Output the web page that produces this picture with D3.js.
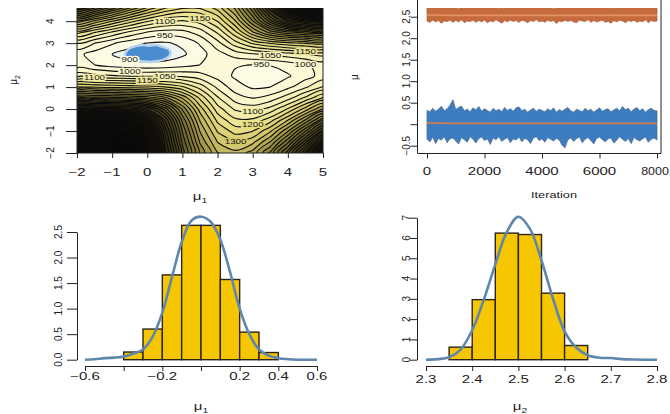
<!DOCTYPE html>
<html><head><meta charset="utf-8">
<script src="https://cdn.jsdelivr.net/npm/d3@7"></script>
<style>
body{margin:0;background:#fff}
text{font-family:"Liberation Sans",Arial,sans-serif;fill:#222}
</style></head>
<body><svg id="fig" width="670" height="414"></svg>
<script>
// ---------- data ----------
// likelihood surface grid
const gridMu1 = [-2,-1.5,-1,-0.5,0,0.5,1,1.5,2,2.5,3,3.5,4,4.5,5];
const gridMu2 = [-2,-1.5,-1,-0.5,0,0.5,1,1.5,2,2.5,3,3.5,4,4.5,5];
// -log likelihood, one row per mu2 value, bottom row first
const negLogLik = [
  [4959,4499,3808,3144,2578,2122,1776,1538,1403,1366,1422,1562,1778,2058,2388],
  [4134,4022,3642,3078,2538,2087,1739,1494,1349,1299,1337,1453,1639,1880,2161],
  [3339,3313,3209,2903,2459,2036,1695,1447,1294,1230,1249,1341,1494,1693,1923],
  [2652,2643,2615,2522,2283,1948,1635,1394,1236,1161,1161,1228,1347,1504,1684],
  [2085,2079,2067,2039,1959,1781,1542,1327,1174,1092,1076,1118,1205,1323,1456],
  [1637,1630,1622,1611,1586,1522,1396,1240,1108,1026,1000,1021,1080,1163,1256],
  [1306,1295,1287,1280,1272,1254,1209,1130,1039, 972, 942, 950, 987,1042,1105],
  [1086,1071,1058,1050,1047,1047,1042,1022, 982, 942, 919, 921, 944, 979,1020],
  [ 974, 951, 931, 918, 914, 919, 934, 951, 959, 954, 948, 952, 969, 993,1019],
  [ 964, 929, 900, 878, 867, 870, 891, 930, 980,1022,1045,1061,1079,1098,1116],
  [1049,1000, 957, 921, 898, 893, 910, 956,1032,1128,1209,1256,1285,1305,1321],
  [1223,1156,1094,1040, 998, 977, 982,1023,1108,1238,1395,1522,1588,1622,1641],
  [1479,1388,1300,1221,1154,1108,1093,1120,1201,1344,1547,1780,1959,2041,2075],
  [1805,1683,1563,1449,1348,1270,1227,1232,1300,1442,1664,1958,2283,2522,2617],
  [2189,2028,1866,1708,1564,1445,1367,1345,1394,1526,1750,2070,2472,2904,3209]
];
// contour labels: level and where along the line it sits
const contourLabels = [
  [900,-0.3,2.05],[950,0.3,3.3],[1000,-0.27,1.7],[1050,0.64,1.5],[1100,-1.26,1.42],
  [1150,-0.2,1.2],[1100,0.3,3.95],[1150,1.4,4.2],[1150,4.75,2.7],[1050,3.4,2.53],
  [1000,4.3,2.15],[950,3.3,1.97],[1100,2.8,0.0],[1200,2.77,-0.8],[1300,2.58,-1.4]
];
// outline of the cloud of sampled (mu1, mu2) pairs
const sampleCloud = [
  [-0.58,2.55],[-0.5,2.7],[-0.35,2.8],[-0.15,2.86],[0.05,2.83],[0.25,2.86],[0.42,2.78],
  [0.6,2.66],[0.62,2.5],[0.5,2.34],[0.3,2.24],[0.1,2.2],[-0.1,2.22],[-0.3,2.26],[-0.48,2.36],[-0.6,2.45]
];

// trace: envelope of the chains, every 100 iterations
const blueHi = [
  0.32,0.29,0.37,0.30,0.35,0.42,0.31,0.36,0.44,0.57,
  0.34,0.39,0.42,0.31,0.35,0.29,0.38,0.33,0.41,0.30,
  0.36,0.32,0.28,0.37,0.31,0.35,0.29,0.39,0.32,0.36,
  0.30,0.38,0.40,0.31,0.35,0.28,0.33,0.37,0.30,0.35,
  0.32,0.29,0.36,0.31,0.38,0.28,0.34,0.30,0.35,0.39,
  0.31,0.28,0.35,0.32,0.29,0.37,0.31,0.35,0.28,0.33,
  0.38,0.30,0.34,0.36,0.29,0.33,0.37,0.31,0.41,0.34,
  0.37,0.29,0.35,0.39,0.31,0.36,0.28,0.34,0.37,0.32,
  0.31];
const blueLo = [
  -0.35,-0.41,-0.30,-0.45,-0.33,-0.37,-0.29,-0.43,-0.34,-0.32,
  -0.39,-0.46,-0.31,-0.36,-0.42,-0.29,-0.35,-0.44,-0.33,-0.30,
  -0.38,-0.34,-0.47,-0.32,-0.36,-0.29,-0.40,-0.35,-0.31,-0.43,
  -0.34,-0.37,-0.30,-0.41,-0.33,-0.36,-0.45,-0.32,-0.29,-0.38,
  -0.34,-0.42,-0.31,-0.35,-0.39,-0.33,-0.37,-0.49,-0.55,-0.36,
  -0.32,-0.40,-0.34,-0.29,-0.43,-0.35,-0.31,-0.38,-0.46,-0.33,
  -0.30,-0.36,-0.41,-0.34,-0.32,-0.44,-0.37,-0.29,-0.35,-0.40,
  -0.33,-0.45,-0.31,-0.36,-0.39,-0.34,-0.30,-0.42,-0.35,-0.32,
  -0.37];
const orangeHi = [
  2.72,2.75,2.70,2.73,2.69,2.74,2.71,2.76,2.70,2.73,
  2.72,2.68,2.74,2.71,2.75,2.70,2.73,2.69,2.72,2.74,
  2.71,2.73,2.70,2.75,2.72,2.68,2.74,2.71,2.73,2.70,
  2.74,2.72,2.69,2.73,2.71,2.75,2.70,2.72,2.74,2.71,
  2.73,2.70,2.74,2.72,2.68,2.73,2.71,2.75,2.70,2.72,
  2.74,2.71,2.73,2.69,2.72,2.75,2.70,2.73,2.71,2.74,
  2.72,2.70,2.75,2.71,2.73,2.68,2.74,2.72,2.70,2.73,
  2.71,2.74,2.72,2.70,2.75,2.71,2.73,2.69,2.72,2.74,
  2.71];
const orangeLo = [
  2.40,2.37,2.42,2.38,2.41,2.35,2.40,2.39,2.42,2.37,
  2.41,2.38,2.43,2.36,2.40,2.39,2.42,2.37,2.41,2.38,
  2.42,2.36,2.40,2.38,2.43,2.39,2.35,2.41,2.38,2.42,
  2.39,2.41,2.37,2.42,2.40,2.36,2.41,2.39,2.43,2.38,
  2.40,2.37,2.42,2.39,2.41,2.34,2.40,2.38,2.42,2.39,
  2.41,2.38,2.36,2.42,2.40,2.39,2.43,2.37,2.41,2.38,
  2.40,2.42,2.37,2.39,2.35,2.41,2.38,2.42,2.40,2.36,
  2.41,2.39,2.42,2.37,2.40,2.38,2.43,2.36,2.41,2.39,
  2.40];
// running means, every 1000 iterations
const meanIter = [0,1000,2000,3000,4000,5000,6000,7000,8000];
const blueMean = [0.03,0.02,0.02,0.02,0.02,0.02,0.02,0.02,0.02];
const orangeMean = [2.54,2.53,2.53,2.53,2.53,2.53,2.53,2.53,2.53];

// histograms (density scale) and smoothed densities
const mu1Breaks = [-0.4,-0.3,-0.2,-0.1,0,0.1,0.2,0.3,0.4];
const mu1Dens = [0.15,0.6,1.66,2.63,2.63,1.57,0.54,0.14];
const mu1KdeX = [-0.6,-0.55,-0.5,-0.45,-0.4,-0.35,-0.3,-0.25,-0.2,-0.15,-0.1,-0.05,0,0.05,0.1,0.15,0.2,0.25,0.3,0.35,0.4,0.45,0.5,0.55,0.6];
const mu1KdeY = [0,0.01,0.03,0.04,0.06,0.12,0.2,0.45,0.92,1.62,2.3,2.72,2.8,2.7,2.35,1.72,1.0,0.5,0.2,0.08,0.03,0.01,0,0,0];
const mu2Breaks = [2.35,2.4,2.45,2.5,2.55,2.6,2.65];
const mu2Dens = [0.62,2.96,6.24,6.17,3.28,0.7];
const mu2KdeX = [2.3,2.325,2.35,2.375,2.4,2.425,2.45,2.475,2.5,2.525,2.55,2.575,2.6,2.625,2.65,2.675,2.7,2.725,2.75,2.775,2.8];
const mu2KdeY = [0,0.03,0.12,0.5,1.45,2.95,4.7,6.3,7.05,6.45,4.9,3.0,1.4,0.6,0.22,0.1,0.08,0.03,0.01,0,0];

// ---------- helpers ----------
const svg = d3.select("#fig");
const stretch = 1.5;   // text in the reference is wide

function hText(x, y, str, size, sub, sx) {
  const t = svg.append("text").attr("transform", `translate(${x},${y}) scale(${sx || stretch},1)`)
    .attr("text-anchor", "middle").style("font-size", size + "px");
  t.append("tspan").text(str);
  if (sub) t.append("tspan").attr("dy", 2.5).style("font-size", (size * 0.7) + "px").text(sub);
  return t;
}
function vText(x, y, str, size, sub) {
  const t = svg.append("text").attr("transform", `translate(${x},${y}) rotate(-90)`)
    .attr("text-anchor", "middle").style("font-size", size + "px");
  t.append("tspan").text(str);
  if (sub) t.append("tspan").attr("dy", 2.5).style("font-size", (size * 0.7) + "px").text(sub);
  return t;
}
function ticksBottom(scale, vals, y, keepLine) {
  const g = svg.append("g").attr("transform", `translate(0,${y})`)
    .call(d3.axisBottom(scale).tickValues(vals).tickSize(5).tickSizeOuter(0).tickFormat(""));
  if (!keepLine) g.select(".domain").remove();
  g.selectAll("line,path").attr("stroke", "#222");
}
function ticksLeft(scale, vals, x, len, keepLine) {
  const g = svg.append("g").attr("transform", `translate(${x},0)`)
    .call(d3.axisLeft(scale).tickValues(vals).tickSize(len).tickSizeOuter(0).tickFormat(""));
  if (!keepLine) g.select(".domain").remove();
  g.selectAll("line,path").attr("stroke", "#222");
}
const fmt = v => (v < 0 ? "\u2212" : "") + Math.abs(v);
const fmt1 = v => (v < 0 ? "\u2212" : "") + Math.abs(v).toFixed(1);

// ---------- panel 1: contour of the likelihood ----------
const cx = d3.scaleLinear([-2, 5], [77, 323]);
const cy = d3.scaleLinear([-2, 4.6], [153, 8]);
const nx = gridMu1.length, ny = gridMu2.length;
const gx2mu = d3.scaleLinear([0.5, nx - 0.5], [gridMu1[0], gridMu1[nx - 1]]);
const gy2mu = d3.scaleLinear([0.5, ny - 0.5], [gridMu2[0], gridMu2[ny - 1]]);
const levels = d3.range(900, 5001, 50);
const bands = d3.contours().size([nx, ny]).thresholds(levels)(negLogLik.flat());
const toPx = r => r.slice(0, -1).map(([gx, gy]) => [cx(gx2mu(gx)), cy(gy2mu(gy))]);
const smooth = d3.line().curve(d3.curveCatmullRomClosed);
const bandPath = b => b.coordinates.map(p => p.map(r => smooth(toPx(r))).join("")).join("");
const fillColor = d3.scaleLinear()
  .domain([900, 1000, 1100, 1200, 1300, 1500, 1800, 2200, 3000])
  .range(["#fdfbe4", "#fbf6cc", "#f3eca8", "#e6dd84", "#d2c76a", "#948a3e", "#514a1e", "#1c1608", "#080504"])
  .clamp(true);

svg.append("clipPath").attr("id", "clipA").append("rect")
  .attr("x", cx(-2)).attr("y", cy(4.6)).attr("width", cx(5) - cx(-2)).attr("height", cy(-2) - cy(4.6));
const pane = svg.append("g").attr("clip-path", "url(#clipA)");
pane.append("rect").attr("x", cx(-2)).attr("y", cy(4.6))
  .attr("width", cx(5) - cx(-2)).attr("height", cy(-2) - cy(4.6)).attr("fill", "#eef4ef");
pane.selectAll("path.band").data(bands).join("path").attr("class", "band")
  .attr("d", bandPath).attr("fill-rule", "evenodd").attr("fill", d => fillColor(d.value));
pane.selectAll("path.iso").data(bands).join("path").attr("class", "iso")
  .attr("d", bandPath).attr("fill", "none").attr("stroke", "#0c0c0c").attr("stroke-width", 1.1);

// sampled pairs
pane.append("path").datum(sampleCloud)
  .attr("d", d3.line().x(d => cx(d[0])).y(d => cy(d[1])).curve(d3.curveCatmullRomClosed))
  .attr("fill", "#4a8dcf").attr("stroke", "#b7d4ea").attr("stroke-width", 5).attr("paint-order", "stroke");

// contour labels, snapped onto their line
contourLabels.forEach(([lev, m1, m2]) => {
  const b = bands.find(d => d.value === lev);
  if (!b) return;
  const tx = cx(m1), ty = cy(m2);
  let best = null, bd = Infinity;
  b.coordinates.forEach(p => p.forEach(r => toPx(r).forEach(pt => {
    const dd = (pt[0] - tx) ** 2 + (pt[1] - ty) ** 2;
    if (dd < bd) { bd = dd; best = pt; }
  })));
  pane.append("text").attr("transform", `translate(${best[0]},${best[1] + 2.3}) scale(${stretch},1)`)
    .attr("text-anchor", "middle").style("font-size", "6.5px")
    .attr("stroke", fillColor(lev)).attr("stroke-width", 2.5).attr("paint-order", "stroke")
    .style("fill", "#111").text(lev);
});

// frame + axes
svg.append("path").attr("d", `M${cx(-2)},${cy(4.6)}V${cy(-2)}H${cx(5)}V${cy(4.6)}`)
  .attr("fill", "none").attr("stroke", "#222");
const cxTicks = [-2, -1, 0, 1, 2, 3, 4, 5], cyTicks = [-2, -1, 0, 1, 2, 3, 4];
ticksBottom(cx, cxTicks, cy(-2), false);
ticksLeft(cy, cyTicks, cx(-2), 11, false);
cxTicks.forEach(v => hText(cx(v), 176, fmt(v), 10));
cyTicks.forEach(v => vText(54, cy(v), fmt(v), 10));
hText(200, 200, "\u03bc", 10, "1");
vText(17, 80, "\u03bc", 10, "2");

// ---------- panel 2: trace ----------
const tx = d3.scaleLinear([0, 8000], [427, 657]);
const ty = d3.scaleLinear([-0.5, 2.5], [145.7, 16.7]);
const iters = d3.range(0, 8001, 100);
svg.append("clipPath").attr("id", "clipB").append("rect")
  .attr("x", 418).attr("y", 8).attr("width", 243).attr("height", 145);
const tp = svg.append("g").attr("clip-path", "url(#clipB)");
const envelope = d3.area().x((d, i) => tx(iters[i])).y0(d => ty(d[0])).y1(d => ty(d[1]));
tp.append("path").datum(d3.zip(orangeLo, orangeHi)).attr("d", envelope)
  .attr("fill", "#c66b3d").attr("stroke", "#a85a38").attr("stroke-width", 0.7);
tp.append("path").datum(d3.zip(blueLo, blueHi)).attr("d", envelope)
  .attr("fill", "#3c7dc2").attr("stroke", "#4f7190").attr("stroke-width", 0.8);
const meanLine = vals => d3.line().x((d, i) => tx(meanIter[i])).y(d => ty(d))(vals);
tp.append("path").attr("d", meanLine(orangeMean)).attr("fill", "none").attr("stroke", "#e39461").attr("stroke-width", 1.6);
tp.append("path").attr("d", meanLine(blueMean)).attr("fill", "none").attr("stroke", "#d17c4c").attr("stroke-width", 1.6);

svg.append("path").attr("d", "M417.5,0V153.5H661V0").attr("fill", "none").attr("stroke", "#222");
const txTicks = [0, 2000, 4000, 6000, 8000];
const tyTicks = [-0.5, 0, 0.5, 1, 1.5, 2, 2.5];
ticksBottom(tx, txTicks, 153.5, false);
ticksLeft(ty, tyTicks, 417.5, 7, false);
txTicks.forEach(v => v === 8000 ? hText(655, 175, String(v), 10, null, 1.25) : hText(tx(v), 175, String(v), 10));
tyTicks.filter(v => v !== 0).forEach(v => vText(410, ty(v), fmt1(v), 10));
hText(554, 198, "Iteration", 8.5);
vText(358, 77, "\u03bc", 10);

// ---------- panel 3: histogram of mu1 ----------
const hx1 = d3.scaleLinear([-0.6, 0.6], [85, 317]);
const hy1 = d3.scaleLinear([0, 2.5], [359.7, 232]);
svg.append("g").selectAll("rect").data(mu1Dens).join("rect")
  .attr("x", (d, i) => hx1(mu1Breaks[i])).attr("width", (d, i) => hx1(mu1Breaks[i + 1]) - hx1(mu1Breaks[i]))
  .attr("y", d => hy1(d)).attr("height", d => hy1(0) - hy1(d))
  .attr("fill", "#f6c700").attr("stroke", "#2b2418").attr("stroke-width", 1.4);
svg.append("path").attr("d", d3.line().x((d, i) => hx1(mu1KdeX[i])).y(d => hy1(d)).curve(d3.curveCatmullRom)(mu1KdeY))
  .attr("fill", "none").attr("stroke", "#5f86ad").attr("stroke-width", 2.6);
const h1xTicks = [-0.6, -0.4, -0.2, 0, 0.2, 0.4, 0.6];
const h1xLabels = [-0.6, -0.2, 0.2, 0.4, 0.6];
const h1yTicks = [0, 0.5, 1, 1.5, 2, 2.5];
ticksBottom(hx1, h1xTicks, 366, true);
ticksLeft(hy1, h1yTicks, 77, 10, true);
h1xLabels.forEach(v => hText(hx1(v), 380, fmt1(v), 10));
h1yTicks.forEach(v => vText(62, hy1(v), v.toFixed(1), 10));
hText(201, 410, "\u03bc", 10, "1");

// ---------- panel 4: histogram of mu2 ----------
const hx2 = d3.scaleLinear([2.3, 2.8], [426, 657]);
const hy2 = d3.scaleLinear([0, 7], [359.7, 217.7]);
svg.append("g").selectAll("rect").data(mu2Dens).join("rect")
  .attr("x", (d, i) => hx2(mu2Breaks[i])).attr("width", (d, i) => hx2(mu2Breaks[i + 1]) - hx2(mu2Breaks[i]))
  .attr("y", d => hy2(d)).attr("height", d => hy2(0) - hy2(d))
  .attr("fill", "#f6c700").attr("stroke", "#2b2418").attr("stroke-width", 1.4);
svg.append("path").attr("d", d3.line().x((d, i) => hx2(mu2KdeX[i])).y(d => hy2(d)).curve(d3.curveCatmullRom)(mu2KdeY))
  .attr("fill", "none").attr("stroke", "#5f86ad").attr("stroke-width", 2.6);
const h2xTicks = [2.3, 2.4, 2.5, 2.6, 2.7, 2.8];
const h2yTicks = [0, 1, 2, 3, 4, 5, 6, 7];
ticksBottom(hx2, h2xTicks, 366, true);
ticksLeft(hy2, h2yTicks, 417, 7, true);
h2xTicks.forEach(v => hText(hx2(v), 383, v.toFixed(1), 10));
h2yTicks.forEach(v => vText(410, hy2(v), String(v), 10));
hText(520, 410, "\u03bc", 10, "2");
</script></body></html>
